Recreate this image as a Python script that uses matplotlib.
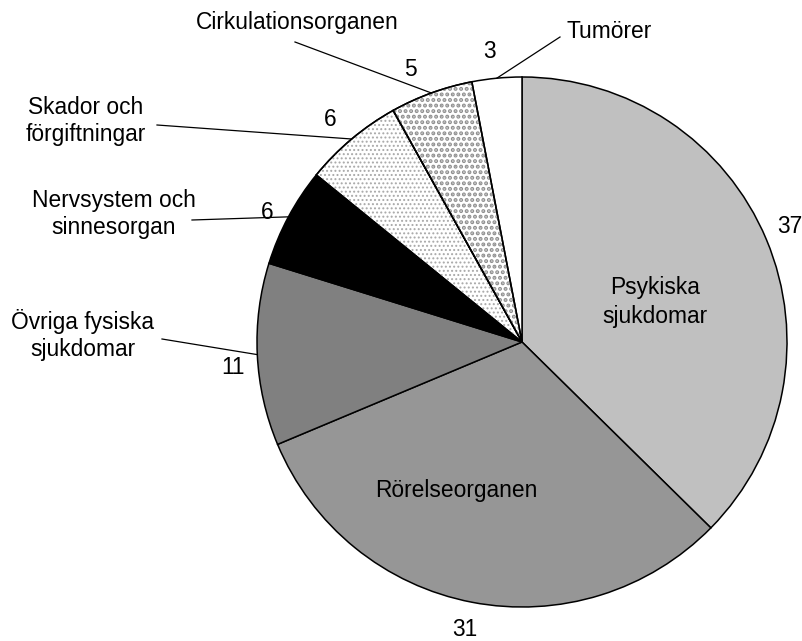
import numpy as np
import matplotlib
matplotlib.use("Agg")
import matplotlib.pyplot as plt
from matplotlib.patches import Wedge

plt.rcParams['font.family'] = ['Liberation Sans', 'DejaVu Sans']

# ---- data ----
categories = ["Psykiska\nsjukdomar", "Rörelseorganen", "Övriga fysiska\nsjukdomar",
              "Nervsystem och\nsinnesorgan", "Skador och\nförgiftningar",
              "Cirkulationsorganen", "Tumörer"]
values = [37, 31, 11, 6, 6, 5, 3]
value_labels = ["37", "31", "11", "6", "6", "5", "3"]

W, H = 803, 641
fig = plt.figure(figsize=(W / 100, H / 100), dpi=100)
ax = fig.add_axes([0, 0, 1, 1])

def P(x, y):
    return (x, H - y)

center = P(522, 342)
R = 265
face = ["#c0c0c0", "#969696", "#808080", "#000000", "#ffffff", "#ffffff", "#ffffff"]

wedges, _ = ax.pie(values, colors=face, startangle=90, counterclock=False,
                   center=center, radius=R,
                   wedgeprops=dict(edgecolor="black", linewidth=1.1))

# hatch overlays
hatch_spec = {4: ("....", "#a8a8a8", 0.9), 5: ("...", "#8f8f8f", 2.0)}
for i, (h, col, lw) in hatch_spec.items():
    w = wedges[i]
    plt.rcParams['hatch.linewidth'] = lw
    ov = Wedge(w.center, w.r, w.theta1, w.theta2, facecolor="none",
               edgecolor=col, linewidth=0, hatch=h)
    if hasattr(ov, "set_hatch_linewidth"):
        ov.set_hatch_linewidth(lw)
    ax.add_patch(ov)
    ax.add_patch(Wedge(w.center, w.r, w.theta1, w.theta2, facecolor="none",
                       edgecolor="black", linewidth=1.1))

fs = 16.4
ls = 1.2

# inside labels
ax.text(*P(655, 302), categories[0], ha="center", va="center", fontsize=fs, linespacing=1.3)
ax.text(*P(456, 491), categories[1], ha="center", va="center", fontsize=fs, linespacing=ls)

# outside labels with leader lines (index, text pos, ha, line end)
outside = [
    (2, P(83, 335), "center", P(162, 339)),
    (3, P(114, 214), "center", P(192, 220)),
    (4, P(86, 121), "center", P(157, 125)),
    (5, P(297, 23), "center", P(295, 42)),
    (6, P(567, 32), "left", P(560, 37)),
]
for i, tpos, ha, lend in outside:
    ax.text(*tpos, categories[i], ha=ha, va="center", fontsize=fs, linespacing=ls)
    w = wedges[i]
    mid = np.deg2rad((w.theta1 + w.theta2) / 2)
    sx = center[0] + R * np.cos(mid)
    sy = center[1] + R * np.sin(mid)
    ax.plot([lend[0], sx], [lend[1], sy], color="black", linewidth=0.9)

# value labels
vpos = [P(790, 227), P(465, 630), P(233, 368), P(267, 213), P(330, 120), P(410, 70), P(490, 52)]
for lab, pos in zip(value_labels, vpos):
    ax.text(*pos, lab, ha="center", va="center", fontsize=fs)

ax.set_xlim(0, W)
ax.set_ylim(0, H)
ax.set_aspect("equal")
ax.axis("off")
fig.savefig("out.png", dpi=100, facecolor="white")
